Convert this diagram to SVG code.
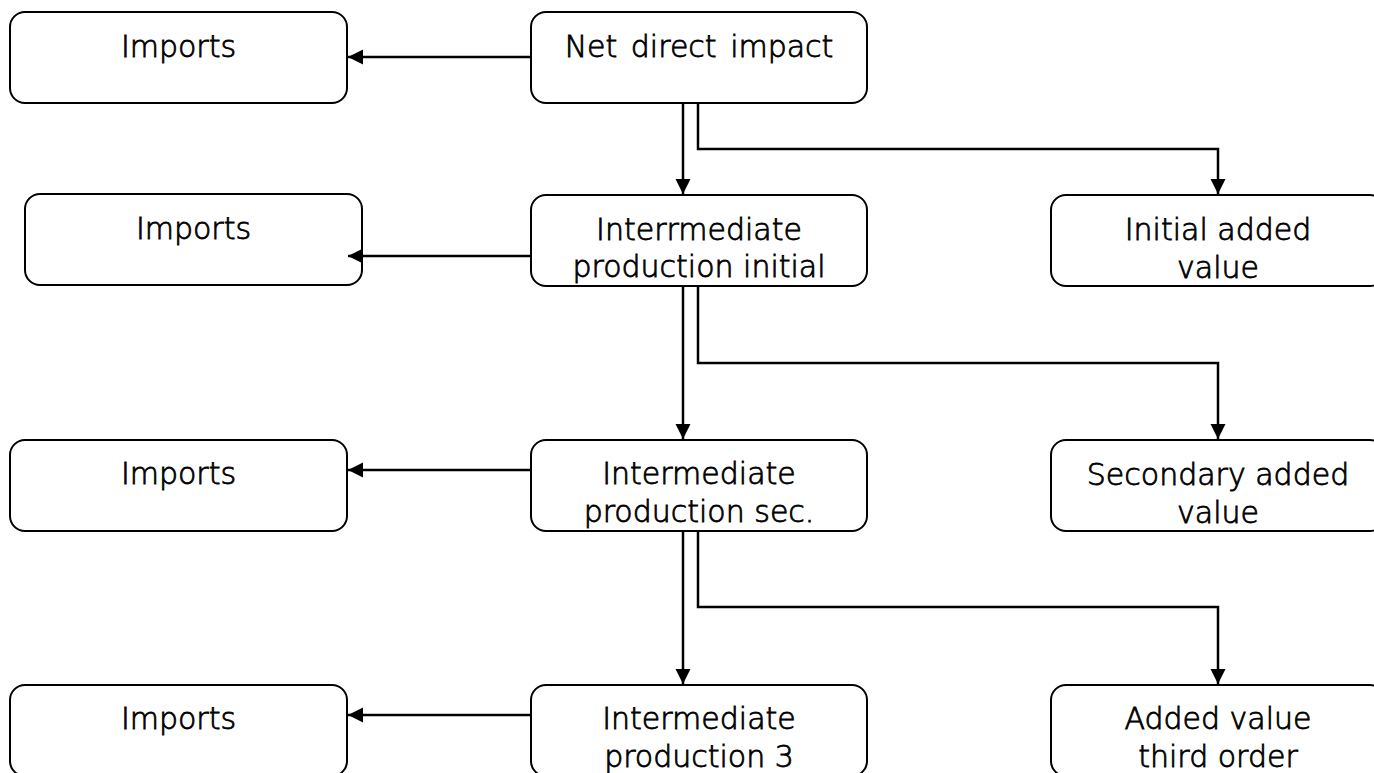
<svg xmlns="http://www.w3.org/2000/svg" width="1374" height="773" viewBox="0 0 1374 773">
<style>
.box{fill:#fff;stroke:#000;stroke-width:2}
.t{font-family:"DejaVu Sans","Liberation Sans",sans-serif;font-size:30px;font-weight:200;fill:#000;stroke:#000;stroke-width:0.8;text-anchor:middle}
.c{fill:none;stroke:#000;stroke-width:2.5}
</style>
<defs>
<marker id="ah" markerUnits="userSpaceOnUse" markerWidth="16" markerHeight="16" viewBox="0 0 16 16" refX="15" refY="8" orient="auto">
<path d="M0,0.5 L15,8 L0,15.5 Z" fill="#000"/>
</marker>
</defs>
<rect width="1374" height="773" fill="#fff"/>
<g id="imports1"><rect class="box" x="10" y="12" width="337" height="91" rx="15"/><text class="t" x="178.5" y="57">Imports</text></g>
<g id="net"><rect class="box" x="531" y="12" width="336" height="91" rx="15"/><text class="t" x="699" y="57" word-spacing="4">Net direct impact</text></g>
<g id="imports2"><rect class="box" x="25" y="194" width="337" height="91" rx="15"/><text class="t" x="193.5" y="239">Imports</text></g>
<g id="inter1"><rect class="box" x="531" y="195" width="336" height="91" rx="15"/><text class="t" x="699" y="240">Interrmediate</text><text class="t" x="699" y="277">production initial</text></g>
<g id="initialav"><rect class="box" x="1051" y="195" width="334" height="91" rx="15"/><text class="t" x="1218" y="240">Initial added</text><text class="t" x="1218" y="278">value</text></g>
<g id="imports3"><rect class="box" x="10" y="440" width="337" height="91" rx="15"/><text class="t" x="178.5" y="484">Imports</text></g>
<g id="inter2"><rect class="box" x="531" y="440" width="336" height="91" rx="15"/><text class="t" x="699" y="484">Intermediate</text><text class="t" x="699" y="522">production sec.</text></g>
<g id="secondaryav"><rect class="box" x="1051" y="440" width="334" height="91" rx="15"/><text class="t" x="1218" y="485">Secondary added</text><text class="t" x="1218" y="523">value</text></g>
<g id="imports4"><rect class="box" x="10" y="685" width="337" height="91" rx="15"/><text class="t" x="178.5" y="729">Imports</text></g>
<g id="inter3"><rect class="box" x="531" y="685" width="336" height="91" rx="15"/><text class="t" x="699" y="729">Intermediate</text><text class="t" x="699" y="767">production 3</text></g>
<g id="thirdav"><rect class="box" x="1051" y="685" width="334" height="91" rx="15"/><text class="t" x="1218" y="729">Added value</text><text class="t" x="1218" y="767">third order</text></g>
<g id="connectors">
<path class="c" d="M531,57 H348" marker-end="url(#ah)"/>
<path class="c" d="M683,103 V194" marker-end="url(#ah)"/>
<path class="c" d="M698,103 V149 H1218 V194" marker-end="url(#ah)"/>
<path class="c" d="M531,256 H348" marker-end="url(#ah)"/>
<path class="c" d="M683,286 V439" marker-end="url(#ah)"/>
<path class="c" d="M698,286 V363 H1218 V439" marker-end="url(#ah)"/>
<path class="c" d="M531,470 H348" marker-end="url(#ah)"/>
<path class="c" d="M683,531 V684" marker-end="url(#ah)"/>
<path class="c" d="M698,531 V607 H1218 V684" marker-end="url(#ah)"/>
<path class="c" d="M531,715 H348" marker-end="url(#ah)"/>
</g>
</svg>
